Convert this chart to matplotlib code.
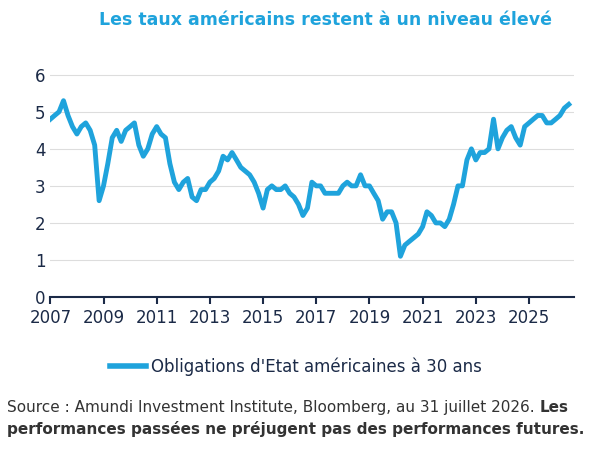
import numpy as np
import pandas as pd
import matplotlib.pyplot as plt
from matplotlib.lines import Line2D

BLUE = "#1fa3dc"
NAVY = "#1b2a47"

# bi-monthly readings of the US 30y yield (%)
y2007 = [4.8, 4.9, 5.0, 5.3, 4.9, 4.6]
y2008 = [4.4, 4.6, 4.7, 4.5, 4.1, 2.6]
y2009 = [3.0, 3.6, 4.3, 4.5, 4.2, 4.5]
y2010 = [4.6, 4.7, 4.1, 3.8, 4.0, 4.4]
y2011 = [4.6, 4.4, 4.3, 3.6, 3.1, 2.9]
y2012 = [3.1, 3.2, 2.7, 2.6, 2.9, 2.9]
y2013 = [3.1, 3.2, 3.4, 3.8, 3.7, 3.9]
y2014 = [3.7, 3.5, 3.4, 3.3, 3.1, 2.8]
y2015 = [2.4, 2.9, 3.0, 2.9, 2.9, 3.0]
y2016 = [2.8, 2.7, 2.5, 2.2, 2.4, 3.1]
y2017 = [3.0, 3.0, 2.8, 2.8, 2.8, 2.8]
y2018 = [3.0, 3.1, 3.0, 3.0, 3.3, 3.0]
y2019 = [3.0, 2.8, 2.6, 2.1, 2.3, 2.3]
y2020 = [2.0, 1.1, 1.4, 1.5, 1.6, 1.7]
y2021 = [1.9, 2.3, 2.2, 2.0, 2.0, 1.9]
y2022 = [2.1, 2.5, 3.0, 3.0, 3.7, 4.0]
y2023 = [3.7, 3.9, 3.9, 4.0, 4.8, 4.0]
y2024 = [4.3, 4.5, 4.6, 4.3, 4.1, 4.6]
y2025 = [4.7, 4.8, 4.9, 4.9, 4.7, 4.7]
y2026 = [4.8, 4.9, 5.1, 5.2]

values = (y2007 + y2008 + y2009 + y2010 + y2011 + y2012 + y2013 + y2014 + y2015
          + y2016 + y2017 + y2018 + y2019 + y2020 + y2021 + y2022 + y2023 + y2024
          + y2025 + y2026)
dates = pd.date_range("2007-01-01", periods=len(values), freq="2MS")
x = dates.year + (dates.dayofyear - 1) / 365.25

fig = plt.figure(figsize=(5.92, 4.5), dpi=100)
ax = fig.add_axes([0.085, 0.34, 0.885, 0.498])
ax.plot(x, values, color=BLUE, lw=3.5)

ax.set_xlim(2007, 2026.7)
ax.set_ylim(0, 6.05)
ax.set_yticks(range(0, 7))
ax.set_xticks(range(2007, 2027, 2))
ax.grid(axis="y", color="#dddddd", lw=0.8)
ax.set_axisbelow(True)
for s in ["top", "right", "left"]:
    ax.spines[s].set_visible(False)
ax.spines["bottom"].set_color(NAVY)
ax.spines["bottom"].set_linewidth(1.5)
ax.tick_params(axis="y", length=0, labelsize=12, colors=NAVY)
ax.tick_params(axis="x", length=5, width=1.5, labelsize=12, colors=NAVY)

fig.text(0.55, 0.945, "Les taux américains restent à un niveau élevé",
         ha="center", fontsize=12.5, fontweight="bold", color=BLUE)

fig.legend([Line2D([], [], color=BLUE, lw=4)],
           ["Obligations d'Etat américaines à 30 ans"],
           loc="center", bbox_to_anchor=(0.5, 0.185), frameon=False,
           fontsize=12, labelcolor=NAVY, handlelength=2.2, handletextpad=0.3)

t1 = fig.text(0.012, 0.085, "Source : Amundi Investment Institute, Bloomberg, au 31 juillet 2026. ",
              fontsize=11, color="#333333")
fig.canvas.draw()
bb = t1.get_window_extent().transformed(fig.transFigure.inverted())
fig.text(bb.x1, 0.085, "Les", fontsize=11, fontweight="bold", color="#333333")
fig.text(0.012, 0.035, "performances passées ne préjugent pas des performances futures.",
         fontsize=11, fontweight="bold", color="#333333")

fig.savefig("out.png", dpi=100)
